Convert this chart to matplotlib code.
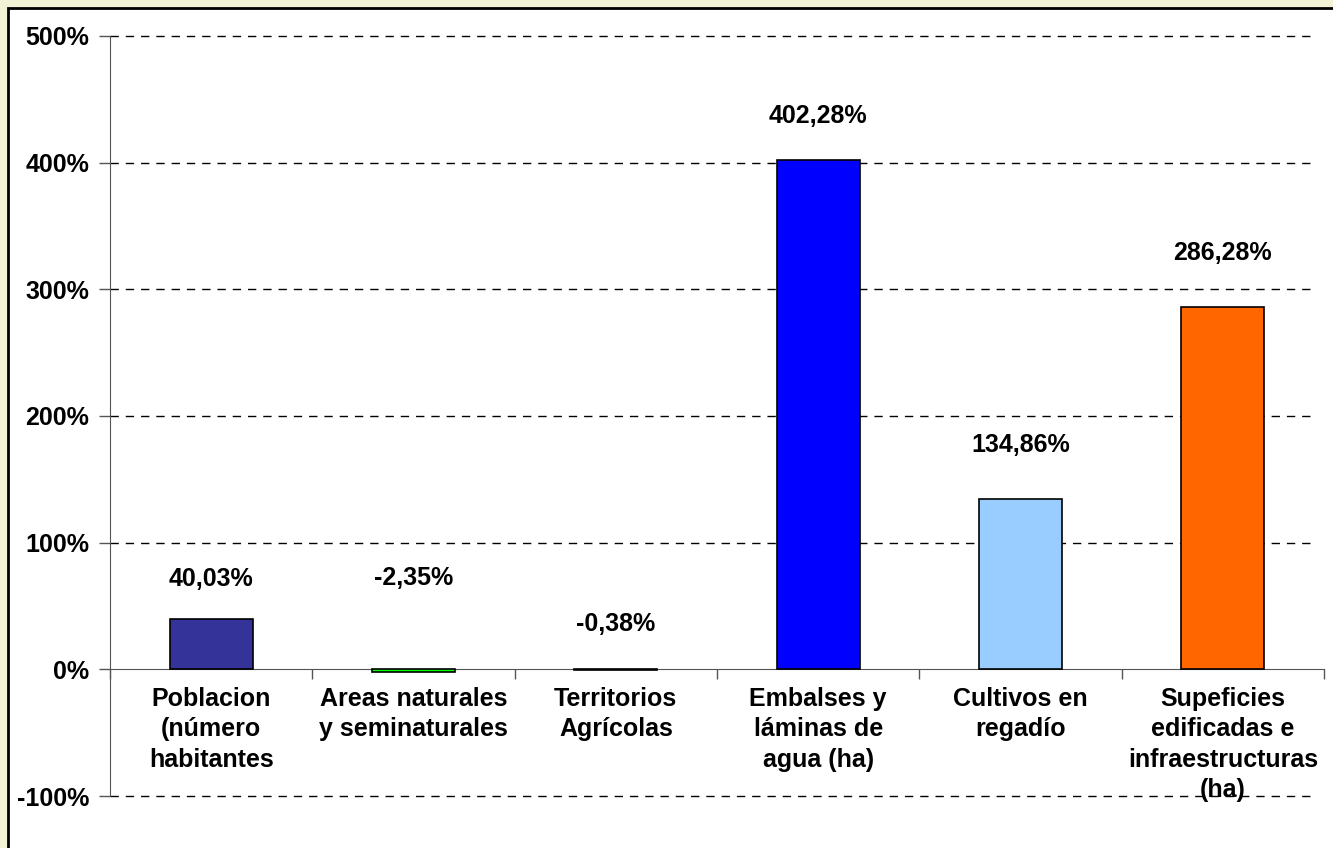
import matplotlib
matplotlib.use('Agg')
import matplotlib.pyplot as plt
from matplotlib.patches import Rectangle
from matplotlib.ticker import FuncFormatter, FixedLocator

# ---- data ----
categories = ['Poblacion\n(número\nhabitantes',
              'Areas naturales\ny seminaturales',
              'Territorios\nAgrícolas',
              'Embalses y\nláminas de\nagua (ha)',
              'Cultivos en\nregadío',
              'Supeficies\nedificadas e\ninfraestructuras\n(ha)']
values = [40.03, -2.35, -0.38, 402.28, 134.86, 286.28]
colors = ['#333399', '#00FF00', '#FFCC00', '#0000FF', '#99CCFF', '#FF6600']
# where the value labels sit (in % units, as placed in the original)
label_y = [71, 72, 36, 437, 177, 329]

plt.rcParams['font.family'] = ['Liberation Sans', 'DejaVu Sans']
plt.rcParams['font.weight'] = 'bold'
FS = 18

fig = plt.figure(figsize=(13.33, 8.48), dpi=100)
fig.patch.set_facecolor('#F2F2D6')

# white panel with black frame (top / left only visible)
panel = Rectangle((8 / 1333, -0.05), 1.1, 1 - 8 / 848 + 0.05,
                  transform=fig.transFigure, facecolor='white',
                  edgecolor='black', linewidth=2, zorder=-10)
fig.add_artist(panel)

ax = fig.add_axes([110 / 1333, 1 - 796 / 848, (1324 - 110) / 1333, (796 - 36) / 848])
ax.set_zorder(1)
ax.set_facecolor('none')

x = list(range(len(values)))
ax.bar(x, values, width=0.41, color=colors, edgecolor='black', linewidth=1.2, zorder=3)

for xi, v, ly in zip(x, values, label_y):
    txt = f'{v:.2f}'.replace('.', ',') + '%'
    ax.text(xi, ly, txt, ha='center', va='center', fontsize=FS, fontweight='bold', zorder=4)

ax.set_xlim(-0.5, 5.5)
ax.set_ylim(-100, 500)
ax.set_yticks([-100, 0, 100, 200, 300, 400, 500])
ax.yaxis.set_major_formatter(FuncFormatter(lambda v, p: f'{int(v)}%'))
ax.tick_params(axis='y', direction='out', length=8, width=1, color='#555555',
               labelsize=FS, pad=7)

# gridlines dashed except at zero
for yv in [-100, 100, 200, 300, 400, 500]:
    ax.axhline(yv, xmin=0, xmax=0.994, color='black', linewidth=1,
               linestyle=(0, (6, 5)), zorder=1, clip_on=False)

# x axis at zero
ax.spines['bottom'].set_position(('data', 0))
ax.spines['bottom'].set_color('#555555')
ax.spines['left'].set_color('#555555')
ax.spines['top'].set_visible(False)
ax.spines['right'].set_visible(False)

ax.xaxis.set_major_locator(FixedLocator([i - 0.5 for i in range(len(values) + 1)]))
ax.xaxis.set_major_formatter(FuncFormatter(lambda v, p: ''))
ax.xaxis.set_minor_locator(FixedLocator(x))
ax.set_xticklabels(categories, minor=True, fontsize=FS, fontweight='bold')
ax.tick_params(axis='x', which='major', direction='out', length=7, width=1, color='#555555')
ax.tick_params(axis='x', which='minor', length=0, pad=13)
for lab in ax.get_xticklabels(minor=True):
    lab.set_linespacing(1.32)
    lab.set_multialignment('center')

fig.savefig('out.png', dpi=100, facecolor=fig.get_facecolor())
